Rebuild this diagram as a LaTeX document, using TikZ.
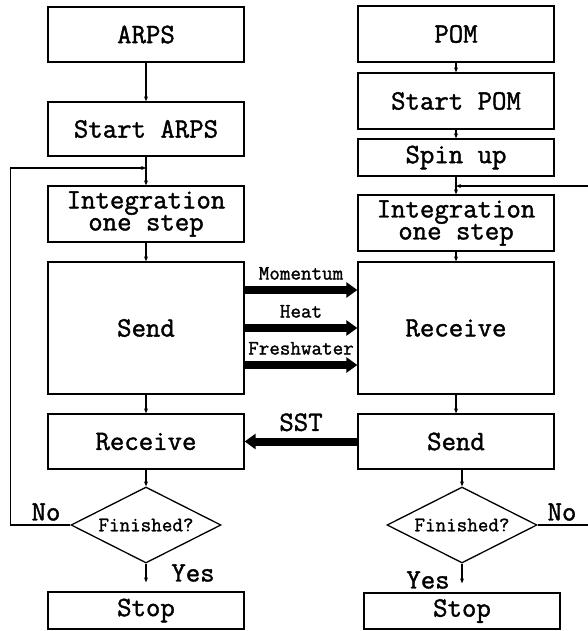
\documentclass[tikz,border=0pt]{standalone}
\usepackage{fontspec}
\newfontfamily\courfont[FakeBold=1.4]{Latin Modern Mono}
\usetikzlibrary{shapes.geometric,arrows.meta}

\begin{document}
\begin{tikzpicture}[x=1pt, y=-1pt,
  box/.style={draw, line width=1.3pt, minimum width=196pt, inner sep=0pt,
    align=center, font=\courfont\bfseries\fontsize{28}{22}\selectfont},
  test/.style={draw, diamond, shape aspect=2, minimum width=150pt,
    minimum height=76pt, inner sep=0pt, line width=1.3pt,
    font=\courfont\bfseries\fontsize{20.5}{20.5}\selectfont},
  flow/.style={line width=1.2pt, -{Stealth[length=5pt,width=4pt]}},
  fat/.style={line width=8pt, -{Triangle[length=11pt,width=15pt]}},
  lbl/.style={font=\courfont\bfseries\fontsize{28}{28}\selectfont},
  slbl/.style={font=\courfont\bfseries\fontsize{20.5}{20.5}\selectfont}]
% coupling flowchart, 1pt per pixel
\useasboundingbox (0,0) rectangle (588,631);
% ARPS side
\node[box, minimum height=55pt] (arps) at (146,34.5) {ARPS};
\node[box, minimum height=54pt] (startarps) at (146,129) {Start ARPS};
\node[box, minimum height=56pt] (integl) at (146,214) {Integration\\one step};
\node[box, minimum height=132pt] (sendl) at (146,328) {Send};
\node[box, minimum height=55pt] (recvl) at (146,441.5) {Receive};
\node[test] (finl) at (146,525) {Finished?};
\node[box, minimum height=37pt] (stopl) at (146,610.5) {Stop};
\coordinate (loopl) at (146,168);
% POM side
\node[box, minimum height=56pt] (pom) at (456,34) {POM};
\node[box, minimum height=56pt] (startpom) at (456,101) {Start POM};
\node[box, minimum height=37pt] (spin) at (456,157.5) {Spin up};
\node[box, minimum height=56pt] (integr) at (456,223) {Integration\\one step};
\node[box, minimum height=132pt] (recvr) at (456,328) {Receive};
\node[box, minimum height=55pt] (sendr) at (456,441.5) {Send};
\node[test] (finr) at (462,525) {Finished?};
\node[box, minimum height=36pt] (stopr) at (462,611) {Stop};
\coordinate (loopr) at (456,186);
\coordinate (inr) at (588,186);
\coordinate (outr) at (588,525);
% labels
\node[lbl] (nol) at (46,512) {No};
\node[lbl] (yesl) at (193,573) {Yes};
\node[lbl] (nor) at (562,512) {No};
\node[lbl] (yesr) at (428,580) {Yes};
% thin connectors
\draw[flow] (arps) -- (startarps);
\draw[flow] (startarps) -- (integl);
\draw[flow] (integl) -- (sendl);
\draw[flow] (sendl) -- (recvl);
\draw[flow] (recvl) -- (finl);
\draw[flow, shorten >=9pt] (finl) -- (stopl);
\draw[flow] (finl.west) -- ++(-60,0) |- (loopl);
\draw[flow] (pom) -- (startpom);
\draw[flow] (startpom) -- (spin);
\draw[flow] (spin) -- (integr);
\draw[flow] (integr) -- (recvr);
\draw[flow] (recvr) -- (sendr);
\draw[flow] (sendr.south -| finr.north) -- (finr.north);
\draw[flow, shorten >=9pt] (finr.south) -- (finr.south |- stopr.north);
\draw[line width=1.2pt] (finr.east) -- (outr);
\draw[flow] (inr) -- (loopr);
% exchanged fields
\draw[fat] ([yshift=38pt]sendl.east) -- ([yshift=38pt]recvr.west)
  node[midway, above=3pt, slbl] (mom) {Momentum};
\draw[fat] (sendl.east) -- (recvr.west)
  node[midway, above=3pt, slbl] (heat) {Heat};
\draw[fat] ([yshift=-37pt]sendl.east) -- ([yshift=-37pt]recvr.west)
  node[midway, above=3pt, slbl] (fresh) {Freshwater};
\draw[fat] (sendr.west) -- (recvl.east)
  node[midway, above=3pt, lbl] (sst) {SST};
\end{tikzpicture}
\end{document}
